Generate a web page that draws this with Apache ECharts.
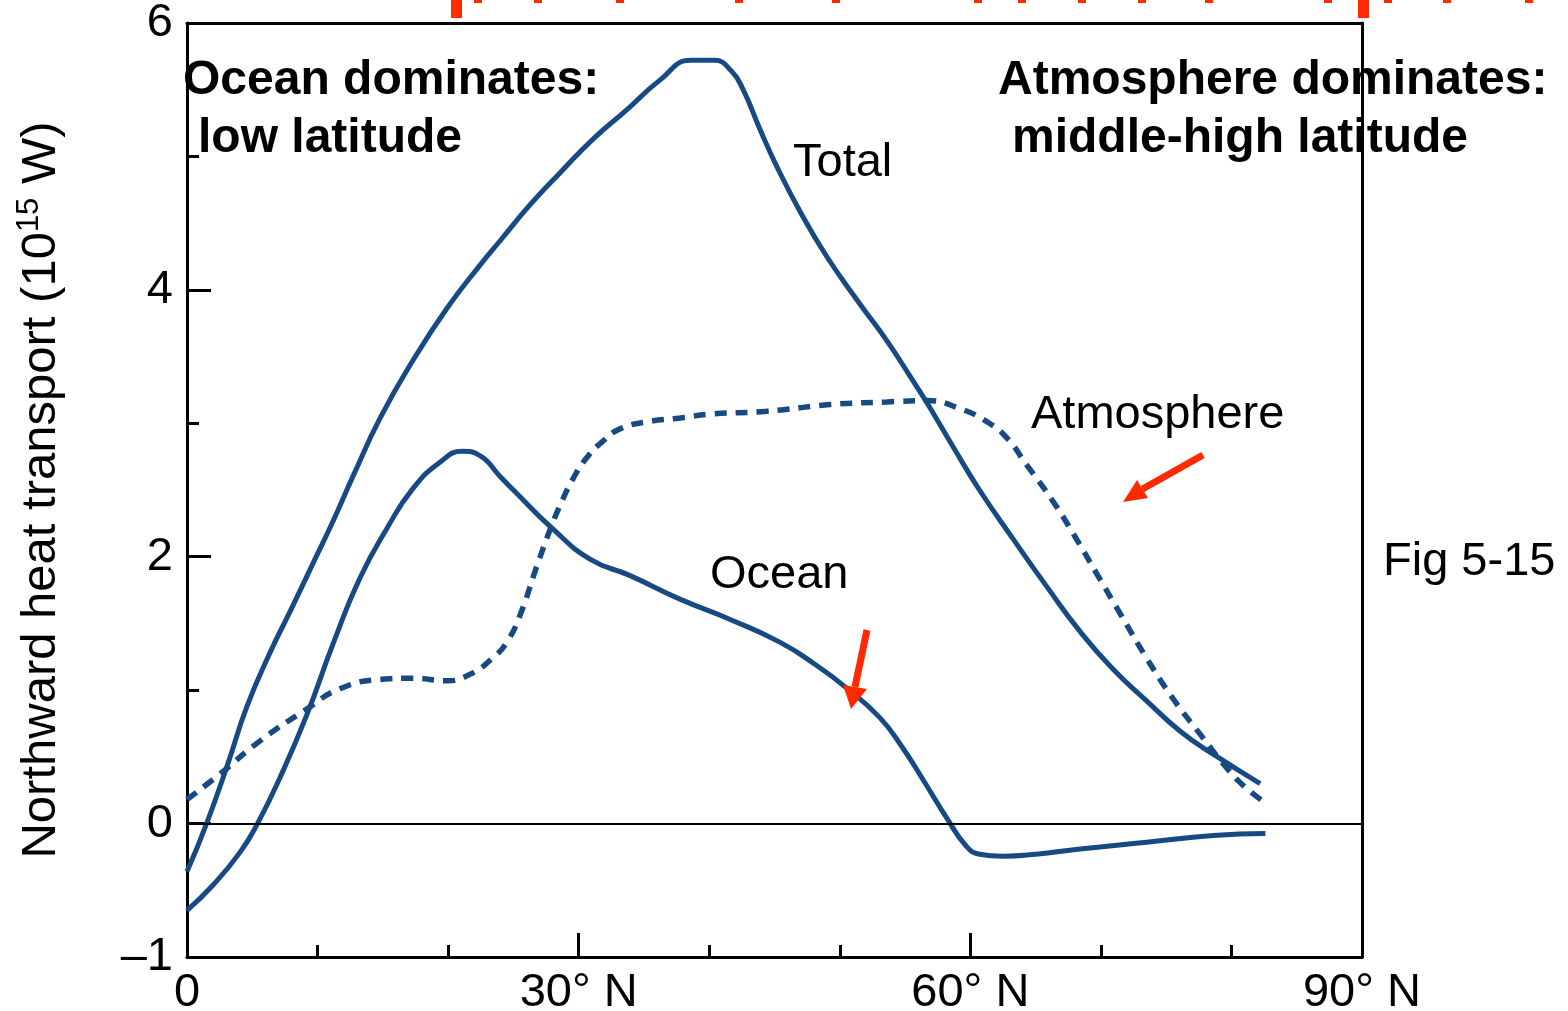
<!DOCTYPE html>
<html>
<head>
<meta charset="utf-8">
<title>Northward heat transport</title>
<script src="https://cdn.jsdelivr.net/npm/echarts@6/dist/echarts.min.js"></script>
<style>
  html, body { margin: 0; padding: 0; background: #fff; }
  #chart { width: 1568px; height: 1011px; }
</style>
</head>
<body>
<div id="chart"></div>
<script>
// latitude (deg N) and transport (10^15 W)
const totalLat = [0, 1.5, 3.1, 4.6, 6.4, 7.9, 9.65, 11.2, 12.7, 14.8, 17.3, 19.9, 22.4, 24.0, 26.3, 28.6, 31.1, 33.7, 36.2, 38.6, 40.4, 41.7, 42.6, 43.9, 45.2, 47.0, 49.0, 51.5, 53.6, 55.6, 56.7, 58.7, 60.7, 63.3, 65.9, 68.4, 70.9, 73.5, 76.1, 78.6, 82.2];
const totalVal = [-0.36, 0.0, 0.44, 0.88, 1.29, 1.59, 1.95, 2.27, 2.60, 3.04, 3.47, 3.86, 4.18, 4.37, 4.64, 4.88, 5.13, 5.35, 5.57, 5.72, 5.72, 5.64, 5.50, 5.20, 4.92, 4.58, 4.25, 3.90, 3.62, 3.32, 3.15, 2.82, 2.50, 2.13, 1.77, 1.44, 1.16, 0.92, 0.69, 0.52, 0.30];

const oceanLat = [0, 2.0, 4.1, 5.4, 7.1, 9.2, 11.2, 13.25, 15.3, 17.3, 19.4, 21.1, 22.4, 24.0, 25.0, 28.0, 30.9, 33.9, 37.8, 41.6, 45.4, 48.0, 50.6, 53.1, 54.8, 56.5, 58.2, 59.7, 60.7, 62.5, 65.0, 68.4, 73.5, 78.6, 82.6];
const oceanVal = [-0.65, -0.46, -0.21, 0.0, 0.34, 0.82, 1.35, 1.84, 2.21, 2.51, 2.71, 2.79, 2.76, 2.60, 2.50, 2.21, 1.98, 1.86, 1.68, 1.53, 1.36, 1.20, 1.01, 0.79, 0.57, 0.31, 0.04, -0.17, -0.23, -0.245, -0.23, -0.19, -0.14, -0.09, -0.075];

const atmosLat = [0, 2.5, 5.6, 9.2, 11.7, 14.8, 17.3, 19.9, 21.7, 23.4, 24.5, 25.5, 26.8, 27.8, 28.6, 29.6, 30.6, 31.9, 33.2, 35.2, 37.8, 40.3, 44.4, 49.25, 53.6, 56.7, 59.2, 61.3, 62.8, 64.3, 66.3, 67.9, 69.7, 71.5, 73.5, 75.5, 77.6, 79.7, 81.2, 82.7];
const atmosVal = [0.18, 0.37, 0.62, 0.86, 1.01, 1.08, 1.09, 1.07, 1.12, 1.24, 1.36, 1.56, 1.93, 2.20, 2.39, 2.59, 2.74, 2.87, 2.96, 3.01, 3.04, 3.07, 3.09, 3.14, 3.16, 3.17, 3.11, 3.01, 2.89, 2.69, 2.42, 2.17, 1.87, 1.57, 1.24, 0.94, 0.67, 0.41, 0.26, 0.15];

const xMajorTicks = [30, 60];
const xMinorTicks = [10, 20, 40, 50, 70, 80];
const xTickLabels = [0, 30, 60, 90];
const yMajorTicks = [0, 2, 4];
const yMinorTicks = [1, 3, 5];
const yTickLabels = [-1, 0, 2, 4, 6];

const FONT = '"Liberation Sans", Arial, Helvetica, sans-serif';
const BLUE = '#174a83';
const RED = '#ff2a00';

const chart = echarts.init(document.getElementById('chart'));

const pairs = (xs, ys) => xs.map((x, i) => [x, ys[i]]);

const baseX = { type: 'value', min: 0, max: 90, splitLine: { show: false } };
const baseY = { type: 'value', min: -1, max: 6, splitLine: { show: false } };
const blackLine = { color: '#000', width: 3 };

const text = (str, x, y, weight, size) => ({
  type: 'text',
  z: 50,
  style: {
    text: str, x: x, y: y,
    font: (weight || 'normal') + ' ' + (size || 47) + 'px ' + FONT,
    fill: '#000',
    textVerticalAlign: 'middle', verticalAlign: 'middle'
  }
});

const arrow = (x1, y1, x2, y2, hx1, hy1, hx2, hy2) => ([
  { type: 'line', z: 60, shape: { x1: x1, y1: y1, x2: (hx1 + hx2) / 2, y2: (hy1 + hy2) / 2 },
    style: { stroke: RED, lineWidth: 7 } },
  { type: 'polygon', z: 60, shape: { points: [[x2, y2], [hx1, hy1], [hx2, hy2]] },
    style: { fill: RED } }
]);

const topMarks = [474, 534, 616, 735, 832, 974, 1018, 1078, 1138, 1205, 1324, 1384, 1443, 1525].map(x => ({
  type: 'rect', shape: { x: x, y: 0, width: 8, height: 3 }, style: { fill: RED }
}));

const option = {
  animation: false,
  backgroundColor: '#fff',
  grid: { left: 187, right: 206, top: 23, bottom: 54, containLabel: false, outerBoundsMode: 'none' },
  xAxis: [
    Object.assign({}, baseX, {
      position: 'bottom',
      axisLine: { onZero: false, lineStyle: blackLine },
      axisTick: { inside: true, length: 24, customValues: xMajorTicks, lineStyle: { color: '#000', width: 3 } },
      axisLabel: {
        customValues: xTickLabels,
        formatter: v => (v === 0 ? '0' : v + '\u00b0 N'),
        color: '#000', fontSize: 47, fontFamily: FONT, margin: 13
      }
    }),
    Object.assign({}, baseX, {
      position: 'bottom',
      axisLine: { show: false, onZero: false },
      axisTick: { inside: true, length: 12, customValues: xMinorTicks, lineStyle: { color: '#000', width: 3 } },
      axisLabel: { show: false }
    }),
    Object.assign({}, baseX, {
      position: 'top',
      axisLine: { onZero: false, lineStyle: blackLine },
      axisTick: { show: false },
      axisLabel: { show: false }
    })
  ],
  yAxis: [
    Object.assign({}, baseY, {
      position: 'left',
      name: 'Northward heat transport (10{s|15} W)',
      nameLocation: 'middle',
      nameRotate: 90,
      nameGap: 119,
      nameTextStyle: {
        color: '#000', fontSize: 49, fontFamily: FONT, lineHeight: 54,
        rich: { s: { fontSize: 31, fontFamily: FONT, color: '#000', verticalAlign: 'top', lineHeight: 32 } }
      },
      axisLine: { onZero: false, lineStyle: blackLine },
      axisTick: { inside: true, length: 24, customValues: yMajorTicks, lineStyle: { color: '#000', width: 3 } },
      axisLabel: {
        customValues: yTickLabels,
        formatter: v => (v < 0 ? '\u2013' + Math.abs(v) : String(v)),
        color: '#000', fontSize: 47, fontFamily: FONT, margin: 14,
        padding: [8, 0, 0, 0]
      }
    }),
    Object.assign({}, baseY, {
      position: 'left',
      axisLine: { show: false, onZero: false },
      axisTick: { inside: true, length: 12, customValues: yMinorTicks, lineStyle: { color: '#000', width: 3 } },
      axisLabel: { show: false }
    }),
    Object.assign({}, baseY, {
      position: 'right',
      axisLine: { onZero: false, lineStyle: blackLine },
      axisTick: { show: false },
      axisLabel: { show: false }
    })
  ],
  series: [
    {
      name: 'Total',
      type: 'line',
      data: pairs(totalLat, totalVal),
      smooth: 0.5,
      showSymbol: false,
      lineStyle: { color: BLUE, width: 5 },
      markLine: {
        silent: true,
        symbol: 'none',
        label: { show: false },
        lineStyle: { color: '#000', width: 2, type: 'solid' },
        data: [{ yAxis: 0 }]
      }
    },
    {
      name: 'Ocean',
      type: 'line',
      data: pairs(oceanLat, oceanVal),
      smooth: 0.5,
      showSymbol: false,
      lineStyle: { color: BLUE, width: 5 }
    },
    {
      name: 'Atmosphere',
      type: 'line',
      data: pairs(atmosLat, atmosVal),
      smooth: 0.5,
      showSymbol: false,
      lineStyle: { color: BLUE, width: 5.5, type: [12, 9] }
    }
  ],
  graphic: [
    text('Ocean dominates:', 183, 81, 'bold', 48),
    text('low latitude', 198, 139, 'bold', 48),
    text('Atmosphere dominates:', 998, 81, 'bold', 48),
    text('middle-high latitude', 1012, 139, 'bold', 48),
    text('Total', 793, 163),
    text('Atmosphere', 1031, 415),
    text('Ocean', 710, 575),
    text('Fig 5-15', 1383, 562),
    ...arrow(1203, 455, 1123, 502, 1137, 480, 1148, 498),
    ...arrow(867, 630, 851, 709, 843, 685, 867, 689),
    { type: 'rect', shape: { x: 451, y: 0, width: 11, height: 18 }, style: { fill: RED } },
    { type: 'rect', shape: { x: 1358, y: 0, width: 11, height: 18 }, style: { fill: RED } },
    ...topMarks
  ]
};

chart.setOption(option);
</script>
</body>
</html>
